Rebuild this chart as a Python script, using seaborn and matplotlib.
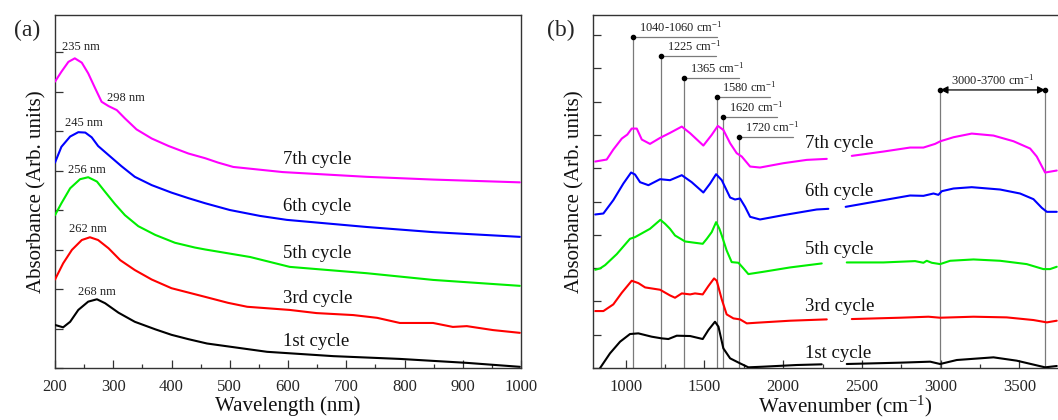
import numpy as np
import pandas as pd
import matplotlib
matplotlib.use("Agg")
import matplotlib.pyplot as plt
from matplotlib.ticker import MultipleLocator, FixedLocator
import seaborn as sns

# ---------------- data: (a) UV-vis ----------------
cycles = ["1st cycle", "3rd cycle", "5th cycle", "6th cycle", "7th cycle"]
colors = ["#000000", "#ff0000", "#00ee00", "#0000ff", "#ff00ff"]

uv_wl_7 = [200, 211, 223, 234, 246, 257, 269, 280, 292, 306, 320, 340, 366, 395, 429, 458, 480, 506, 591, 735, 850, 998]
uv_ab_7 = [7.25, 7.50, 7.75, 7.84, 7.73, 7.46, 7.08, 6.74, 6.63, 6.53, 6.32, 6.04, 5.81, 5.62, 5.43, 5.31, 5.20, 5.09, 4.96, 4.84, 4.77, 4.70]

uv_wl_6 = [200, 211, 226, 240, 252, 263, 274, 292, 314, 337, 366, 400, 429, 458, 500, 552, 598, 735, 849, 998]
uv_ab_6 = [5.20, 5.60, 5.86, 5.97, 5.96, 5.84, 5.62, 5.39, 5.11, 4.84, 4.63, 4.44, 4.30, 4.17, 4.00, 3.85, 3.75, 3.57, 3.44, 3.32]

uv_wl_5 = [200, 211, 226, 243, 257, 272, 286, 303, 320, 343, 372, 406, 440, 458, 535, 603, 735, 849, 998]
uv_ab_5 = [3.87, 4.17, 4.55, 4.78, 4.83, 4.72, 4.46, 4.15, 3.87, 3.59, 3.37, 3.17, 3.05, 3.00, 2.81, 2.56, 2.40, 2.23, 2.08]

uv_wl_3 = [200, 214, 229, 246, 260, 274, 292, 312, 337, 366, 400, 429, 458, 497, 530, 603, 649, 712, 753, 792, 849, 883, 907, 952, 998]
uv_ab_3 = [2.24, 2.65, 2.99, 3.24, 3.31, 3.24, 3.03, 2.73, 2.48, 2.24, 2.02, 1.91, 1.80, 1.65, 1.55, 1.47, 1.39, 1.34, 1.27, 1.14, 1.14, 1.04, 1.06, 0.96, 0.89]

uv_wl_1 = [200, 214, 226, 240, 257, 272, 286, 309, 337, 372, 400, 429, 461, 564, 678, 792, 907, 998]
uv_ab_1 = [1.09, 1.03, 1.17, 1.47, 1.68, 1.74, 1.64, 1.40, 1.17, 0.98, 0.84, 0.73, 0.62, 0.41, 0.30, 0.23, 0.13, 0.03]

uv_peak_text = ["235 nm", "298 nm", "245 nm", "256 nm", "262 nm", "268 nm"]
uv_peak_x = [212, 289, 217, 222, 224, 239]
uv_peak_y = [8.13, 6.84, 6.20, 5.01, 3.52, 1.92]
uv_label_y = [0.66, 1.75, 2.91, 4.08, 5.27]

# ---------------- data: (b) FTIR ----------------
NaN = np.nan
ir_wn_7 = [806, 879, 921, 975, 1010, 1038, 1070, 1102, 1154, 1218, 1281, 1356, 1409, 1493, 1546, 1585, 1620, 1663, 1705, 1737, 1790, 1853, 2001, 2150, 2277,
           2330, 2436, 2637, 2806, 2891, 2965, 2999, 3082, 3198, 3336, 3463, 3569, 3611, 3664, 3738]
ir_ab_7 = [6.20, 6.26, 6.56, 6.89, 7.01, 7.19, 7.19, 6.86, 6.73, 6.91, 7.06, 7.25, 7.05, 6.68, 7.00, 7.27, 7.15, 6.75, 6.45, 6.35, 6.05, 6.02, 6.15, 6.25, 6.28,
           NaN, 6.37, 6.50, 6.62, 6.62, 6.73, 6.81, 6.93, 7.04, 6.98, 6.81, 6.59, 6.35, 5.87, 5.93]

ir_wn_6 = [806, 858, 921, 985, 1034, 1059, 1091, 1144, 1218, 1281, 1356, 1419, 1493, 1536, 1574, 1610, 1663, 1694, 1726, 1758, 1790, 1853, 2001, 2213, 2287,
           2340, 2397, 2637, 2806, 2891, 2955, 2986, 3008, 3082, 3198, 3378, 3505, 3590, 3643, 3675, 3738]
ir_ab_6 = [4.61, 4.64, 5.04, 5.54, 5.87, 5.81, 5.58, 5.49, 5.67, 5.64, 5.79, 5.58, 5.27, 5.54, 5.82, 5.64, 5.12, 5.06, 5.09, 4.84, 4.54, 4.46, 4.59, 4.76, 4.78,
           NaN, 4.84, 5.04, 5.18, 5.17, 5.24, 5.20, 5.31, 5.39, 5.43, 5.36, 5.24, 5.07, 4.81, 4.69, 4.69]

ir_wn_5 = [806, 837, 869, 943, 1027, 1059, 1154, 1220, 1250, 1281, 1313, 1377, 1440, 1489, 1515, 1546, 1574, 1595, 1610, 1641, 1673, 1716, 1748, 1779, 1875, 2044, 2245,
           2320, 2404, 2637, 2838, 2891, 2912, 2944, 2997, 3061, 3209, 3378, 3547, 3653, 3695, 3738]
ir_ab_5 = [2.95, 2.99, 3.09, 3.42, 3.88, 3.93, 4.18, 4.45, 4.33, 4.18, 3.98, 3.80, 3.76, 3.73, 3.88, 4.08, 4.38, 4.18, 3.98, 3.53, 3.18, 3.16, 2.99, 2.82, 2.89, 3.02, 3.14,
           NaN, 3.17, 3.17, 3.21, 3.16, 3.22, 3.16, 3.12, 3.22, 3.26, 3.22, 3.12, 2.97, 2.97, 3.04]

ir_wn_3 = [806, 858, 921, 975, 1038, 1080, 1123, 1218, 1281, 1313, 1356, 1409, 1440, 1489, 1525, 1561, 1578, 1610, 1641, 1684, 1726, 1769, 1833, 2044, 2277,
           2350, 2436, 2743, 2923, 2997, 3209, 3420, 3590, 3675, 3738]
ir_ab_3 = [1.71, 1.71, 1.91, 2.26, 2.62, 2.55, 2.42, 2.35, 2.18, 2.11, 2.24, 2.21, 2.24, 2.21, 2.46, 2.69, 2.62, 2.06, 1.61, 1.49, 1.46, 1.34, 1.36, 1.42, 1.46,
           NaN, 1.47, 1.51, 1.54, 1.51, 1.54, 1.52, 1.44, 1.37, 1.42]

ir_wn_1 = [837, 900, 964, 1027, 1080, 1165, 1228, 1271, 1324, 1409, 1489, 1525, 1567, 1589, 1620, 1663, 1726, 1779, 1875, 2087, 2245,
           2320, 2404, 2743, 2934, 2997, 3103, 3336, 3484, 3664, 3738]
ir_ab_1 = [0.0, 0.44, 0.79, 1.02, 1.04, 0.94, 0.89, 0.87, 0.97, 0.96, 0.87, 1.14, 1.39, 1.24, 0.59, 0.29, 0.14, 0.02, 0.04, 0.09, 0.11,
           NaN, 0.12, 0.16, 0.19, 0.12, 0.24, 0.32, 0.22, 0.02, 0.06]

ir_label_y = [0.45, 1.86, 3.57, 5.29, 6.75]
ir_xticks = [1000, 1500, 2000, 2500, 3000, 3500]

SUP = "$^{\\mathregular{-1}}$"
band_text = ["1040-1060 cm" + SUP, "1225 cm" + SUP, "1365 cm" + SUP,
             "1580 cm" + SUP, "1620 cm" + SUP, "1720 cm" + SUP]
band_x = [1048, 1224, 1372, 1578, 1620, 1722]
band_top = [9.94, 9.37, 8.71, 8.14, 7.54, 6.94]
band_end = [1580, 1574, 1720, 1917, 1961, 2063]
range_text = "3000-3700 cm" + SUP
range_x = [2999, 3664]
range_y = 8.35

# ---------------- style ----------------
sns.set_theme(style="ticks")
plt.rcParams["font.family"] = ["Liberation Serif", "DejaVu Serif"]
plt.rcParams["mathtext.fontset"] = "custom"
plt.rcParams["mathtext.rm"] = "Liberation Serif"
plt.rcParams["mathtext.it"] = "Liberation Serif:italic"
plt.rcParams["axes.edgecolor"] = "#333333"
plt.rcParams["axes.linewidth"] = 1.0

W, H = 1058, 420
fig = plt.figure(figsize=(W / 100, H / 100), dpi=100)
axA = fig.add_axes([55 / W, (H - 368) / H, 466 / W, 353 / H])
axB = fig.add_axes([593 / W, (H - 368) / H, 505 / W, 353 / H])

def make_df(xs, ys, name):
    xs = np.asarray(xs, float)
    ys = np.asarray(ys, float)
    seg = np.cumsum(np.isnan(ys))
    df = pd.DataFrame({"x": xs, "y": ys, "seg": seg, "cycle": name})
    return df.dropna()

lw = 1.5
uv_sets = [(uv_wl_1, uv_ab_1), (uv_wl_3, uv_ab_3), (uv_wl_5, uv_ab_5), (uv_wl_6, uv_ab_6), (uv_wl_7, uv_ab_7)]
for (xs, ys), name, c in zip(uv_sets, cycles, colors):
    d = make_df(xs, ys, name)
    sns.lineplot(data=d, x="x", y="y", units="seg", estimator=None, sort=False,
                 color=c, lw=lw, ax=axA, legend=False, zorder=3)

ir_sets = [(ir_wn_1, ir_ab_1), (ir_wn_3, ir_ab_3), (ir_wn_5, ir_ab_5), (ir_wn_6, ir_ab_6), (ir_wn_7, ir_ab_7)]
for (xs, ys), name, c in zip(ir_sets, cycles, colors):
    d = make_df(xs, ys, name)
    sns.lineplot(data=d, x="x", y="y", units="seg", estimator=None, sort=False,
                 color=c, lw=lw, ax=axB, legend=False, zorder=3)

# axes A
axA.set_xlim(200, 1000)
axA.set_ylim(0, 353 / 39.5)
axA.xaxis.set_major_locator(MultipleLocator(100))
axA.xaxis.set_minor_locator(MultipleLocator(50))
axA.yaxis.set_major_locator(MultipleLocator(1))
axA.set_yticklabels([])

# axes B
axB.set_xlim(792, 4000)
axB.set_ylim(0, 353 / 33.3)
axB.xaxis.set_major_locator(FixedLocator(ir_xticks))
axB.xaxis.set_minor_locator(FixedLocator([1250, 1750, 2250, 2750, 3250, 3750]))
axB.yaxis.set_major_locator(MultipleLocator(1))
axB.set_yticklabels([])

for ax in (axA, axB):
    ax.tick_params(axis="both", which="major", direction="in", length=6, width=0.9,
                   color="#333333", labelsize=12, pad=8)
    ax.tick_params(axis="both", which="minor", direction="in", length=3, width=0.9, color="#333333")
    ax.tick_params(axis="x", which="both", top=False)
    ax.tick_params(axis="y", which="both", right=False)

axA.set_xlabel("Wavelength (nm)", fontsize=15, labelpad=1, color="#111111")
axA.set_ylabel("Absorbance (Arb. units)", fontsize=15, labelpad=-2, color="#111111")
axB.set_xlabel("Wavenumber (cm" + SUP + ")", fontsize=15, labelpad=-1, color="#111111")
axB.set_ylabel("Absorbance (Arb. units)", fontsize=15, labelpad=-2, color="#111111")

# annotations A
for t, x, y in zip(uv_peak_text, uv_peak_x, uv_peak_y):
    axA.text(x, y, t, fontsize=9, ha="left", va="center", color="#222222")
for t, y in zip(cycles, uv_label_y):
    axA.text(591, y, t, fontsize=13.5, ha="left", va="center", color="#111111")

# annotations B
for t, y in zip(cycles, ir_label_y):
    axB.text(2139, y, t, fontsize=13.5, ha="left", va="center", color="#111111")

gray = "#7a7a7a"
for t, x, top, end in zip(band_text, band_x, band_top, band_end):
    axB.plot([x, x], [0, top], color=gray, lw=0.9, zorder=1)
    axB.plot([x, end], [top, top], color=gray, lw=0.9, zorder=1)
    axB.plot([x], [top], "o", color="black", ms=3, zorder=4)
    axB.annotate(t, xy=(x, top), xytext=(4, 2), textcoords="offset points",
                 fontsize=9, ha="left", va="bottom", color="#222222")

for x in range_x:
    axB.plot([x, x], [0, range_y], color=gray, lw=0.9, zorder=1)
    axB.plot([x], [range_y], "o", color="black", ms=3, zorder=4)
axB.annotate("", xy=(range_x[0], range_y), xytext=(range_x[1], range_y),
             arrowprops=dict(arrowstyle="<|-|>", color="black", lw=0.9,
                             mutation_scale=11, shrinkA=0, shrinkB=0))
axB.annotate(range_text, xy=(sum(range_x) / 2, range_y), xytext=(0, 2),
             textcoords="offset points", fontsize=9, ha="center", va="bottom", color="#222222")

# panel labels
fig.text(27 / W, 1 - 30 / H, "(a)", fontsize=17, ha="center", va="center")
fig.text(561 / W, 1 - 30 / H, "(b)", fontsize=17, ha="center", va="center")

fig.savefig("out.png", dpi=100)
